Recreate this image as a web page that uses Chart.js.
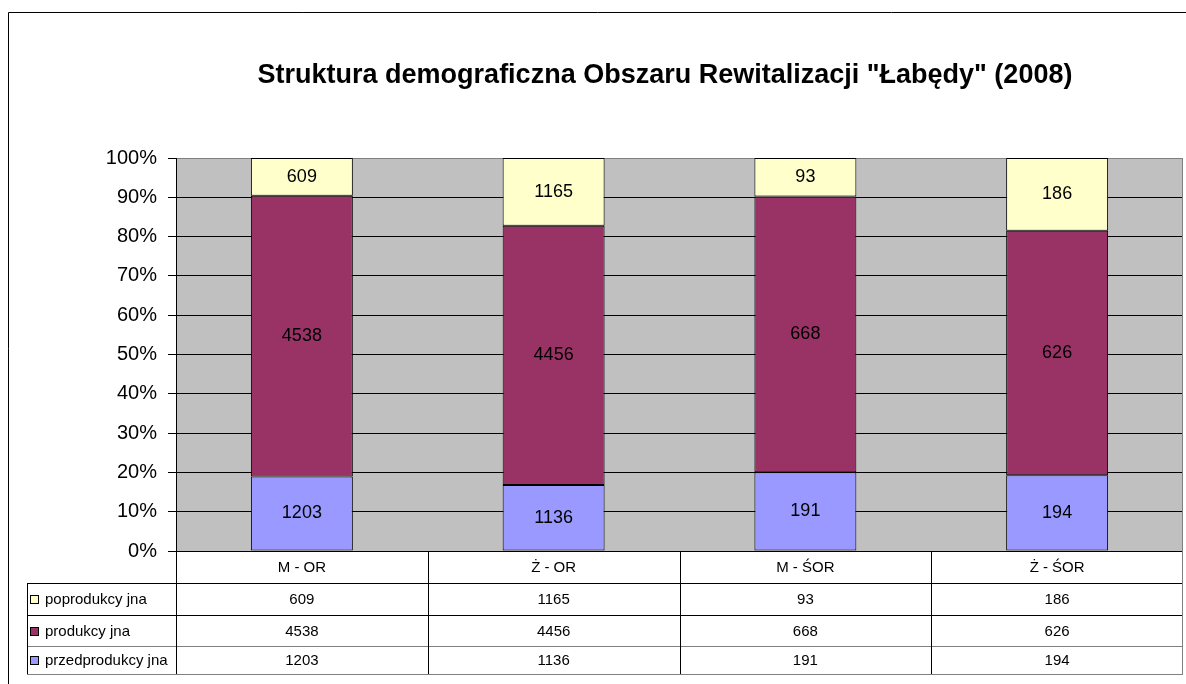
<!DOCTYPE html>
<html lang="pl">
<head>
<meta charset="UTF-8">
<title>Struktura demograficzna</title>
<script src="https://cdn.jsdelivr.net/npm/chart.js"></script>
<style>
    html, body { margin: 0; padding: 0; background: #fff; }
    canvas { display: block; }
</style>
</head>
<body>
<canvas id="wykres" width="1186" height="684"></canvas>

<script>
    // dane z tabeli
    const kategorie = ['M - OR', 'Ż - OR', 'M - ŚOR', 'Ż - ŚOR'];
    const przedprodukcyjna = [1203, 1136, 191, 194];
    const produkcyjna = [4538, 4456, 668, 626];
    const poprodukcyjna = [609, 1165, 93, 186];
    const nazwySerii = ['przedprodukcy jna', 'produkcy jna', 'poprodukcy jna'];
    const kolorySerii = ['#9999FF', '#993366', '#FFFFCC'];
    const tytul = 'Struktura demograficzna Obszaru Rewitalizacji "Łabędy" (2008)';

    const czcionka = '"Liberation Sans", Arial, sans-serif';
    Chart.defaults.font.family = czcionka;

    const serie = [przedprodukcyjna, produkcyjna, poprodukcyjna];
    const sumy = kategorie.map((k, i) => serie.reduce((s, tab) => s + tab[i], 0));
    // wykres 100% - udzial procentowy w kazdej kategorii
    const procenty = serie.map(tab => tab.map((v, i) => v / sumy[i] * 100));

    const datasets = serie.map((tab, s) => ({
        label: nazwySerii[s],
        data: procenty[s],
        wartosci: tab,
        backgroundColor: kolorySerii[s],
        borderColor: '#000',
        borderWidth: 1,
        borderSkipped: false,
        categoryPercentage: 1,
        barPercentage: 0.405
    }));

    // szare tlo obszaru wykresu
    const tlo = {
        id: 'tlo',
        beforeDraw(chart) {
            const { ctx, chartArea: a } = chart;
            ctx.save();
            ctx.fillStyle = '#C0C0C0';
            ctx.fillRect(a.left, a.top, a.right - a.left, a.bottom - a.top);
            ctx.restore();
        }
    };

    // liczby na slupkach
    const etykiety = {
        id: 'etykiety',
        afterDatasetsDraw(chart) {
            const ctx = chart.ctx;
            ctx.save();
            ctx.font = '18px ' + czcionka;
            ctx.fillStyle = '#000';
            ctx.textAlign = 'center';
            ctx.textBaseline = 'middle';
            chart.data.datasets.forEach((ds, d) => {
                chart.getDatasetMeta(d).data.forEach((el, i) => {
                    ctx.fillText(String(ds.wartosci[i]), el.x, (el.y + el.base) / 2);
                });
            });
            ctx.restore();
        }
    };

    // tytul, ramka i tabela danych pod wykresem
    const tabela = {
        id: 'tabela',
        afterDraw(chart) {
            const { ctx, chartArea: a } = chart;
            const lewo = 27;
            const wiersze = [a.bottom, 583, 615, 646, 674];
            const szer = (a.right - a.left) / kategorie.length;
            const linia = (x1, y1, x2, y2, kolor) => {
                ctx.strokeStyle = kolor;
                ctx.beginPath();
                ctx.moveTo(x1, y1);
                ctx.lineTo(x2, y2);
                ctx.stroke();
            };
            ctx.save();
            ctx.lineWidth = 1;

            // ramka calego obiektu
            linia(8.5, 12.5, 1186, 12.5, '#000');
            linia(8.5, 12.5, 8.5, 684, '#000');

            ctx.fillStyle = '#000';
            ctx.font = 'bold 27px ' + czcionka;
            ctx.textAlign = 'center';
            ctx.textBaseline = 'alphabetic';
            ctx.fillText(tytul, 665, 83);

            // linie poziome tabeli
            linia(a.left, wiersze[0] + 0.5, a.right, wiersze[0] + 0.5, '#000');
            linia(lewo, wiersze[1] + 0.5, a.right, wiersze[1] + 0.5, '#000');
            linia(lewo, wiersze[2] + 0.5, a.right, wiersze[2] + 0.5, '#000');
            linia(lewo, wiersze[3] + 0.5, a.right, wiersze[3] + 0.5, '#808080');
            linia(lewo, wiersze[4] + 0.5, a.right, wiersze[4] + 0.5, '#808080');

            // linie pionowe
            linia(lewo + 0.5, wiersze[1], lewo + 0.5, wiersze[4], '#000');
            for (let i = 0; i < kategorie.length; i++) {
                const x = Math.round(a.left + i * szer) + 0.5;
                linia(x, wiersze[0], x, wiersze[4], '#000');
            }
            linia(a.right - 0.5, a.top, a.right - 0.5, wiersze[4], '#808080');

            // naglowki kategorii
            ctx.font = '15px ' + czcionka;
            ctx.textBaseline = 'middle';
            kategorie.forEach((k, i) => {
                ctx.fillText(k, a.left + (i + 0.5) * szer, (wiersze[0] + wiersze[1]) / 2 + 1);
            });

            // wiersze serii - od gory: poprodukcyjna, produkcyjna, przedprodukcyjna
            for (let r = 0; r < serie.length; r++) {
                const s = serie.length - 1 - r;
                const yc = (wiersze[r + 1] + wiersze[r + 2]) / 2 + 1;
                ctx.fillStyle = kolorySerii[s];
                ctx.fillRect(31, Math.round(yc) - 4, 7, 7);
                ctx.strokeStyle = '#000';
                ctx.strokeRect(30.5, Math.round(yc) - 4.5, 8, 8);
                ctx.fillStyle = '#000';
                ctx.textAlign = 'left';
                ctx.fillText(nazwySerii[s], 45, yc);
                ctx.textAlign = 'center';
                serie[s].forEach((v, i) => {
                    ctx.fillText(String(v), a.left + (i + 0.5) * szer, yc);
                });
            }
            ctx.restore();
        }
    };

    new Chart(document.getElementById('wykres'), {
        type: 'bar',
        data: { labels: kategorie, datasets: datasets },
        options: {
            responsive: false,
            animation: false,
            layout: { padding: { top: 158, right: 3, bottom: 133, left: 0 } },
            plugins: {
                legend: { display: false },
                title: { display: false },
                tooltip: { enabled: false }
            },
            scales: {
                x: { stacked: true, display: false },
                y: {
                    stacked: true,
                    min: 0,
                    max: 100,
                    afterFit(scale) { scale.width = 176; },
                    ticks: {
                        stepSize: 10,
                        padding: 11,
                        color: '#000',
                        font: { size: 20 },
                        callback: v => v + '%'
                    },
                    grid: {
                        color: c => (c.tick && c.tick.value === 100 ? '#808080' : '#000'),
                        tickColor: '#000',
                        tickLength: 8,
                        lineWidth: 1
                    },
                    border: { color: '#000', width: 1 }
                }
            }
        },
        plugins: [tlo, etykiety, tabela]
    });
</script>
</body>
</html>
